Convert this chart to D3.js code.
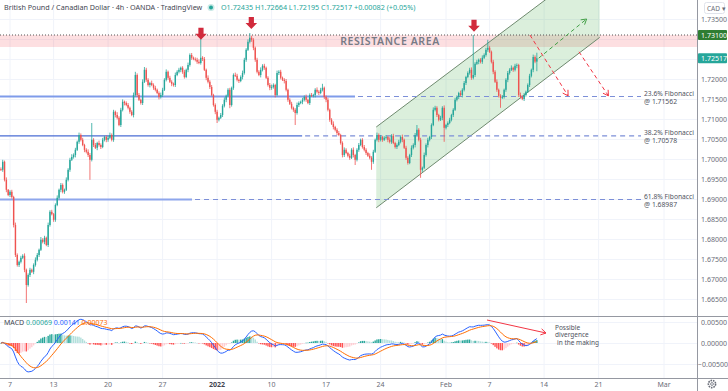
<!DOCTYPE html>
<html><head><meta charset="utf-8">
<script src="https://cdn.jsdelivr.net/npm/d3@7/dist/d3.min.js"></script>
<style>body{margin:0;background:#fff}svg{display:block;font-family:"Noto Sans",sans-serif}</style>
</head><body><svg id="c" width="728" height="391"></svg>
<script>
// ---------- DATA ----------
const firstOpen = 1.6975;
const closes = [
1.6973,1.6993,1.6948,1.6923,1.6910,1.6918,1.6905,1.6835,1.6760,1.6735,
1.6743,1.6753,1.6758,1.6723,1.6685,1.6710,1.6723,1.6718,1.6735,1.6748,
1.6760,1.6773,1.6798,1.6793,1.6803,1.6785,1.6835,1.6868,1.6862,1.6848,
1.6885,1.6903,1.6923,1.6935,1.6918,1.6923,1.6948,1.6973,1.6998,1.7005,
1.7010,1.7023,1.7043,1.7060,1.7048,1.7035,1.7023,1.7018,1.7010,1.6998,
1.7048,1.7035,1.7028,1.7040,1.7035,1.7030,1.7048,1.7055,1.7048,1.7053,
1.7060,1.7048,1.7118,1.7110,1.7103,1.7085,1.7123,1.7143,1.7140,1.7135,
1.7128,1.7118,1.7110,1.7160,1.7210,1.7160,1.7148,1.7140,1.7193,1.7223,
1.7198,1.7185,1.7190,1.7185,1.7178,1.7173,1.7165,1.7155,1.7160,1.7173,
1.7198,1.7218,1.7203,1.7193,1.7188,1.7185,1.7210,1.7218,1.7223,1.7228,
1.7218,1.7205,1.7223,1.7235,1.7260,1.7253,1.7250,1.7248,1.7243,1.7240,
1.7253,1.7250,1.7223,1.7203,1.7193,1.7180,1.7160,1.7135,1.7118,1.7098,
1.7103,1.7110,1.7133,1.7148,1.7158,1.7173,1.7135,1.7178,1.7210,1.7208,
1.7198,1.7195,1.7205,1.7215,1.7248,1.7273,1.7293,1.7303,1.7298,1.7278,
1.7248,1.7218,1.7210,1.7223,1.7233,1.7228,1.7203,1.7185,1.7178,1.7180,
1.7185,1.7160,1.7215,1.7218,1.7203,1.7198,1.7195,1.7173,1.7148,1.7138,
1.7128,1.7123,1.7115,1.7135,1.7140,1.7143,1.7148,1.7155,1.7148,1.7140,
1.7160,1.7158,1.7160,1.7173,1.7168,1.7165,1.7173,1.7178,1.7155,1.7148,
1.7123,1.7098,1.7088,1.7080,1.7073,1.7065,1.7060,1.7040,1.7010,1.7023,
1.7015,1.7008,1.7003,1.7023,1.7010,1.6998,1.7023,1.7035,1.7048,1.7030,
1.7023,1.7015,1.7008,1.7003,1.6993,1.7018,1.7048,1.7060,1.7048,1.7055,
1.7048,1.7053,1.7055,1.7048,1.7043,1.7058,1.7040,1.7030,1.7035,1.7043,
1.7055,1.7048,1.7028,1.7003,1.6990,1.7010,1.7028,1.7035,1.7060,1.7073,
1.7048,1.6973,1.6978,1.7010,1.7035,1.7048,1.7055,1.7085,1.7123,1.7128,
1.7110,1.7098,1.7103,1.7128,1.7078,1.7085,1.7090,1.7098,1.7110,1.7123,
1.7148,1.7155,1.7165,1.7160,1.7173,1.7190,1.7205,1.7215,1.7223,1.7203,
1.7210,1.7238,1.7243,1.7248,1.7243,1.7253,1.7260,1.7273,1.7278,1.7268,
1.7243,1.7218,1.7193,1.7173,1.7158,1.7153,1.7155,1.7173,1.7198,1.7215,
1.7223,1.7228,1.7223,1.7233,1.7235,1.7160,1.7155,1.7150,1.7160,1.7168,
1.7185,1.7208,1.7223,1.7255,1.72435,1.72517];
// upper / lower wick lengths in pips (0.0001)
const wickUp = [
4,5,3,6,2,4,5,3,6,4, 3,5,4,6,3,4,5,3,4,6, 5,3,7,4,5,3,6,4,5,3, 4,6,3,5,4,3,6,4,5,7,
4,5,3,6,4,5,3,4,6,5, 42,4,5,3,6,4,5,3,4,5, 6,4,5,3,7,4,5,6,3,4, 5,3,4,6,8,4,5,3,6,7,
5,4,3,6,4,5,3,4,6,5, 4,6,3,5,4,3,6,4,5,3, 4,5,3,6,4,5,3,4,5,6, 50,4,5,3,6,4,5,3,4,5,
3,5,4,6,3,4,5,3,4,6, 5,3,4,6,5,4,6,12,5,4, 3,5,4,6,4,5,3,4,5,6, 4,3,6,4,5,3,4,5,3,4,
5,3,4,6,4,3,5,4,6,3, 4,5,3,4,6,4,5,10,3,4, 5,3,4,6,3,4,5,3,4,6, 4,3,5,4,6,3,4,5,3,4,
5,4,3,6,4,5,3,6,4,5, 3,4,5,3,6,4,5,3,4,5, 4,6,3,5,4,3,6,4,5,12, 4,5,3,6,4,5,3,4,6,5,
4,3,5,4,6,3,4,5,3,4, 5,4,3,6,4,5,3,4,5,6, 100,4,5,3,4,6,4,5,20,4, 3,5,4,6,3,4,5,3,4,5,
4,6,3,5,4,3,6,4,5,3, 4,5,3,6,4,14];
const wickDn = [
3,5,4,6,3,5,4,6,5,4, 5,4,3,6,45,4,5,3,6,4, 4,5,3,4,6,3,5,4,3,5, 5,3,4,6,4,5,3,4,5,3,
4,6,3,5,4,3,6,4,5,50, 4,5,3,6,4,5,3,4,6,5, 3,4,5,6,4,3,5,4,6,3, 4,5,3,6,4,5,3,4,5,3,
5,4,6,3,5,4,3,6,4,5, 3,4,5,3,6,4,5,3,4,6, 5,4,3,6,4,5,3,4,5,3, 4,5,3,6,4,5,3,4,6,8,
4,3,5,4,6,3,8,4,5,3, 4,5,3,6,4,5,3,4,5,6, 5,4,3,6,4,5,3,4,6,5, 4,6,3,5,4,3,6,4,5,3,
4,5,30,4,5,3,6,4,5,3, 5,3,4,6,4,5,3,4,5,6, 4,5,3,6,4,5,3,4,6,5, 3,4,5,3,6,13,4,5,3,4,
4,5,3,4,20,5,3,4,6,4, 5,3,4,6,4,5,3,4,5,3, 4,6,3,5,4,3,5,4,6,3, 4,20,5,3,4,6,4,5,3,4,
5,4,3,6,35,4,5,3,4,5, 3,4,5,3,6,4,5,3,4,5, 4,5,3,6,4,5,3,4,5,3, 4,6,3,5,4,25,3,4,5,6,
4,3,5,4,6,5,4,3,5,4, 3,5,4,6,4,24];
const candlesPerDay = 6;
// trading-day index of time-axis ticks (day 0 = Mon 6 Dec 2021)
const tickDays   = [1,5,10,15,20,25,30,35,41,45,50,55,61];
const tickLabels = ["7","13","20","27","2022","10","17","24","Feb","7","14","21","Mar"];
const priceTicks = [1.735,1.730,1.725,1.720,1.715,1.710,1.705,1.700,1.695,1.690,1.685,1.680,1.675,1.670,1.665];
const macdTicks  = [0.005,0,-0.005];
const fibNames   = ["23.6% Fibonacci","38.2% Fibonacci","61.8% Fibonacci"];
const fibValues  = [1.71562,1.70578,1.68987];
const resistanceLevel = 1.73100;
const resistanceZone  = [1.7280,1.7310];
const lastPrice = 1.72517;
const peakArrows = [{d:18.52,p:1.7298},{d:23.14,p:1.7325},{d:43.57,p:1.7318}];
const channelDays  = [34.6,55.1];
const channelUpper = [1.7080,1.7500];
const channelLower = [1.6878,1.7304];

// ---------- LAYOUT ----------
const svg = d3.select("#c");
const plotR = 697, pTop = 0, pBot = 316, mTop = 316, mBot = 378;
const x  = d3.scaleLinear().domain([0,64]).range([-0.9,696.7]);
const y  = d3.scaleLinear().domain([1.665,1.735]).range([299,19]);
const ym = d3.scaleLinear().domain([-0.005,0.005]).range([364,322]);
const green="#26a69a", red="#ef5350", axisTxt="#6a6d78", grid="#f0f3fa";

svg.append("rect").attr("width",728).attr("height",391).attr("fill","#fff");
const defs = svg.append("defs");
defs.append("clipPath").attr("id","cp").append("rect").attr("x",0).attr("y",pTop).attr("width",plotR).attr("height",pBot-pTop);
defs.append("clipPath").attr("id","cm").append("rect").attr("x",0).attr("y",mTop).attr("width",plotR).attr("height",mBot-mTop);

// grid
const gg = svg.append("g");
tickDays.forEach(d=>{gg.append("line").attr("x1",x(d)).attr("x2",x(d)).attr("y1",0).attr("y2",mBot).attr("stroke",grid).attr("stroke-width",1);});
priceTicks.forEach(p=>{gg.append("line").attr("x1",0).attr("x2",plotR).attr("y1",Math.round(y(p))+0.5).attr("y2",Math.round(y(p))+0.5).attr("stroke",grid);});
macdTicks.forEach(v=>{gg.append("line").attr("x1",0).attr("x2",plotR).attr("y1",Math.round(ym(v))+0.5).attr("y2",Math.round(ym(v))+0.5).attr("stroke",grid);});

const P = svg.append("g").attr("clip-path","url(#cp)");
// resistance zone
P.append("rect").attr("x",0).attr("width",plotR).attr("y",y(resistanceZone[1])).attr("height",y(resistanceZone[0])-y(resistanceZone[1])).attr("fill","rgba(242,54,69,0.16)");
// channel
const chPoly=[[x(channelDays[0]),y(channelUpper[0])],[x(channelDays[1]),y(channelUpper[1])],[x(channelDays[1]),y(channelLower[1])],[x(channelDays[0]),y(channelLower[0])]];
P.append("polygon").attr("points",chPoly.map(p=>p.join(",")).join(" ")).attr("fill","rgba(76,175,80,0.2)");
[channelUpper,channelLower].forEach(arr=>{
  P.append("line").attr("x1",x(channelDays[0])).attr("y1",y(arr[0])).attr("x2",x(channelDays[1])).attr("y2",y(arr[1])).attr("stroke","#6f8a6f").attr("stroke-width",1);
});
P.append("text").attr("x",390).attr("y",y(1.7295)+4).attr("text-anchor","middle").attr("font-size",10.5).attr("font-weight",600).attr("letter-spacing",0.6).attr("fill","#787b86").text("RESISTANCE AREA");
// resistance dotted line
P.append("line").attr("x1",0).attr("x2",plotR).attr("y1",y(resistanceLevel)).attr("y2",y(resistanceLevel)).attr("stroke","#555").attr("stroke-width",1).attr("stroke-dasharray","1,2");

// fib lines
const fibSolidEnd=[32.65,27.8,17.7], fibSolidColor=["#7f9bea","#4a6cd4","#8ea6ec"], fibSolidW=[2,1.2,2];
fibValues.forEach((v,i)=>{
  const yy=y(v);
  P.append("line").attr("x1",0).attr("x2",x(fibSolidEnd[i])).attr("y1",yy).attr("y2",yy).attr("stroke",fibSolidColor[i]).attr("stroke-width",fibSolidW[i]);
  P.append("line").attr("x1",x(fibSolidEnd[i])+3).attr("x2",641).attr("y1",yy).attr("y2",yy).attr("stroke","#7c8fd8").attr("stroke-width",1.2).attr("stroke-dasharray","5,4");
  P.append("text").attr("x",644).attr("y",yy-0.5).attr("font-size",6.8).attr("textLength",50).attr("lengthAdjust","spacingAndGlyphs").attr("fill","#50535e").text(fibNames[i]);
  P.append("text").attr("x",644).attr("y",yy+7.5).attr("font-size",6.8).attr("fill","#50535e").text("@ "+v.toFixed(5));
});

// candles
const candles = closes.map((c,i)=>{const o=i?closes[i-1]:firstOpen;return {d:(i+1)/candlesPerDay,o,c,h:Math.max(o,c)+wickUp[i]*1e-4,l:Math.min(o,c)-wickDn[i]*1e-4};});
candles[candles.length-1].o=1.72435;
const cg=P.append("g");
candles.forEach(k=>{
  const col=k.c>=k.o?green:red, cx=x(k.d);
  cg.append("line").attr("x1",cx).attr("x2",cx).attr("y1",y(k.h)).attr("y2",y(k.l)).attr("stroke",col).attr("stroke-width",0.8);
  const top=y(Math.max(k.o,k.c)), bot=y(Math.min(k.o,k.c));
  cg.append("rect").attr("x",cx-0.7).attr("width",1.4).attr("y",top).attr("height",Math.max(0.8,bot-top)).attr("fill",col);
});

// peak arrows
peakArrows.forEach(a=>{
  const tx=x(a.d), ty=y(a.p);
  const pts=[[tx-2.6,ty-12],[tx+2.6,ty-12],[tx+2.6,ty-6],[tx+5.8,ty-6],[tx,ty],[tx-5.8,ty-6],[tx-2.6,ty-6]];
  P.append("polygon").attr("points",pts.map(p=>p.join(",")).join(" ")).attr("fill","#d12a3c");
});

// dashed projection arrows
function arrowLine(g,x1,y1,x2,y2,col,dash){
  g.append("line").attr("x1",x1).attr("y1",y1).attr("x2",x2).attr("y2",y2).attr("stroke",col).attr("stroke-width",1).attr("stroke-dasharray",dash||null);
  const ang=Math.atan2(y2-y1,x2-x1), L=6;
  [ang+2.6,ang-2.6].forEach(a=>g.append("line").attr("x1",x2).attr("y1",y2).attr("x2",x2+L*Math.cos(a)).attr("y2",y2+L*Math.sin(a)).attr("stroke",col).attr("stroke-width",1));
}
const projGreen=[[49.5,1.7252],[53.9,1.7350]];
const projRed1=[[48.7,1.7310],[52.2,1.7158]];
const projRed2=[[53.2,1.7268],[55.9,1.7158]];
arrowLine(P,x(projGreen[0][0]),y(projGreen[0][1]),x(projGreen[1][0]),y(projGreen[1][1]),"#43a047","4,3");
arrowLine(P,x(projRed1[0][0]),y(projRed1[0][1]),x(projRed1[1][0]),y(projRed1[1][1]),"#f23645","4,3");
arrowLine(P,x(projRed2[0][0]),y(projRed2[0][1]),x(projRed2[1][0]),y(projRed2[1][1]),"#f23645","4,3");

// ---------- MACD ----------
function ema(arr,n){const k=2/(n+1);let prev=arr[0];return arr.map((v,i)=>(prev=i?v*k+prev*(1-k):v));}
const e12=ema(closes,12), e26=ema(closes,26);
const macd=e12.map((v,i)=>v-e26[i]);
const signal=ema(macd,9);
const hist=macd.map((v,i)=>v-signal[i]);
const M=svg.append("g").attr("clip-path","url(#cm)");
hist.forEach((h,i)=>{
  const prev=i?hist[i-1]:0;
  const col=h>=0?(h>=prev?"#26a69a":"#b2dfdb"):(h<prev?"#ff5252":"#ffcdd2");
  const cx=x((i+1)/candlesPerDay), y0=ym(0), y1=ym(h);
  M.append("rect").attr("x",cx-0.7).attr("width",1.4).attr("y",Math.min(y0,y1)).attr("height",Math.max(0.5,Math.abs(y1-y0))).attr("fill",col);
});
const ln=d3.line().x((v,i)=>x((i+1)/candlesPerDay)).y(v=>ym(v));
M.append("path").attr("d",ln(macd)).attr("fill","none").attr("stroke","#2962ff").attr("stroke-width",1);
M.append("path").attr("d",ln(signal)).attr("fill","none").attr("stroke","#ff6d00").attr("stroke-width",1);
arrowLine(M,487,320,546,333,"#f23645",null);
M.append("text").attr("x",555).attr("y",329.5).attr("font-size",6.5).attr("fill","#50535e").text("Possible");
M.append("text").attr("x",555).attr("y",337).attr("font-size",6.5).attr("fill","#50535e").text("divergence");
M.append("text").attr("x",557).attr("y",344.5).attr("font-size",6.5).attr("fill","#50535e").text("in the making");

// panel borders
svg.append("line").attr("x1",0).attr("x2",728).attr("y1",316.5).attr("y2",316.5).attr("stroke","#9598a1");
svg.append("line").attr("x1",0).attr("x2",728).attr("y1",378.5).attr("y2",378.5).attr("stroke","#9598a1");
svg.append("line").attr("x1",697.5).attr("x2",697.5).attr("y1",0).attr("y2",391).attr("stroke","#9598a1");

// price axis labels
const hidden=[1.730,1.725];
priceTicks.filter(p=>!hidden.includes(p)).forEach(p=>{
  svg.append("text").attr("x",701).attr("y",y(p)+2.5).attr("font-size",7).attr("fill",axisTxt).text(p.toFixed(5));
});
macdTicks.forEach(v=>{
  svg.append("text").attr("x",v<0?698:701).attr("y",ym(v)+2.5).attr("font-size",7).attr("fill",axisTxt).text((v<0?"\u22120.00500":v.toFixed(5)));
});
// price tags
function tag(p,fill){
  const yy=y(p);
  svg.append("rect").attr("x",698).attr("y",yy-5).attr("width",29).attr("height",10).attr("rx",1).attr("fill",fill);
  svg.append("text").attr("x",701).attr("y",yy+2.5).attr("font-size",7).attr("fill","#fff").text(p.toFixed(5));
}
tag(resistanceLevel,"#2f7d32");
tag(lastPrice,green);
// CAD box
svg.append("rect").attr("x",704.5).attr("y",2.5).attr("width",20).attr("height",11).attr("rx",2).attr("fill","#fff").attr("stroke","#e0e3eb");
svg.append("text").attr("x",707).attr("y",10.5).attr("font-size",6.5).attr("fill",axisTxt).text("CAD \u25BE");

// time axis labels
tickDays.forEach((d,i)=>{
  svg.append("text").attr("x",x(d)).attr("y",387).attr("text-anchor","middle").attr("font-size",7)
    .attr("font-weight",tickLabels[i]==="2022"?700:400).attr("fill",tickLabels[i]==="2022"?"#434651":axisTxt).text(tickLabels[i]);
});
// gear
const gx=712,gy=384;
svg.append("circle").attr("cx",gx).attr("cy",gy).attr("r",3.6).attr("fill","none").attr("stroke","#6a6d78").attr("stroke-width",1.6).attr("stroke-dasharray","1.6,0.9");
svg.append("circle").attr("cx",gx).attr("cy",gy).attr("r",1.4).attr("fill","none").attr("stroke","#6a6d78").attr("stroke-width",0.8);

// header
svg.append("text").attr("x",4).attr("y",10).attr("font-size",7.2).attr("fill","#434651").text("British Pound / Canadian Dollar \u00B7 4h \u00B7 OANDA \u00B7 TradingView");
svg.append("circle").attr("cx",211).attr("cy",7.5).attr("r",3.5).attr("fill","rgba(38,166,154,0.25)");
svg.append("circle").attr("cx",211).attr("cy",7.5).attr("r",2).attr("fill",green);
svg.append("text").attr("x",221).attr("y",10).attr("font-size",7.2).attr("fill",green).text("O1.72435 H1.72664 L1.72195 C1.72517 +0.00082 (+0.05%)");
// MACD header
const mh=svg.append("text").attr("x",4).attr("y",325).attr("font-size",7);
mh.append("tspan").attr("fill","#434651").text("MACD ");
mh.append("tspan").attr("fill","#26a69a").text("0.00069 ");
mh.append("tspan").attr("fill","#2962ff").text("0.00141 ");
mh.append("tspan").attr("fill","#ff6d00").text("0.00073");
</script></body></html>
